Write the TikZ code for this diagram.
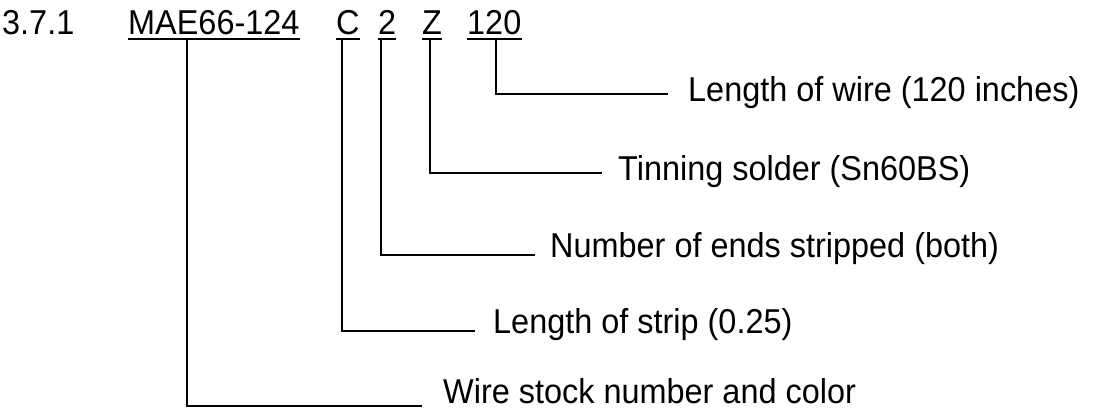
\documentclass[tikz,border=0pt]{standalone}
\usepackage{fontspec}
\setmainfont{Liberation Sans}[FakeStretch=0.94]
\begin{document}
\begin{tikzpicture}[x=1pt,y=-1pt,
  txt/.style={anchor=base west,inner sep=0pt,font=\fontsize{34.5}{34.5}\selectfont},
  ln/.style={line width=1.6pt}]
\useasboundingbox[fill=white] (0,0) rectangle (1100,410);
% code line
\node[txt] (num)  at (2,34)   {3.7.1};
\node[txt] (mae)  at (128,34) {MAE66-124};
\node[txt] (cc)   at (336,34) {C};
\node[txt] (two)  at (378,34) {2};
\node[txt] (zz)   at (422,34) {Z};
\node[txt] (len)  at (467,34) {120};
% underlines
\foreach \n in {mae,cc,two,zz,len}
  \draw[ln] ([yshift=-5pt]\n.base west) -- ([yshift=-5pt]\n.base east);
% labels
\node[txt] (l120) at (688,101) {Length of wire (120 inches)};
\node[txt] (lz)   at (618,180) {Tinning solder (Sn60BS)};
\node[txt] (l2)   at (550,257) {Number of ends stripped (both)};
\node[txt] (lc)   at (493,333) {Length of strip (0.25)};
\node[txt] (lmae) at (443,403) {Wire stock number and color};
% connectors
\draw[ln] ([xshift=59pt,yshift=-5pt]mae.base west) |- ([xshift=-21pt,yshift=-3pt]lmae.base west);
\draw[ln] ([xshift=6pt,yshift=-5pt]cc.base west) |- ([xshift=-18pt,yshift=2pt]lc.base west);
\draw[ln] ([xshift=3pt,yshift=-5pt]two.base west) |- ([xshift=-15pt,yshift=2pt]l2.base west);
\draw[ln] ([xshift=8pt,yshift=-5pt]zz.base west) |- ([xshift=-16pt,yshift=7pt]lz.base west);
\draw[ln] ([xshift=29pt,yshift=-5pt]len.base west) |- ([xshift=-20pt,yshift=7pt]l120.base west);
\end{tikzpicture}
\end{document}
